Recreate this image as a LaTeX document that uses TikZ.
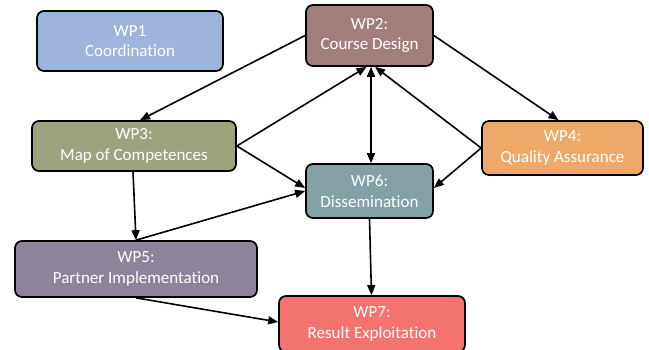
\documentclass[tikz,border=0pt]{standalone}
\usepackage{fontspec}
\setmainfont[Ligatures=NoCommon]{Carlito}
\usetikzlibrary{arrows.meta}
\definecolor{cwpA}{HTML}{9DB4DC}
\definecolor{cwpB}{HTML}{A27D7C}
\definecolor{cwpC}{HTML}{9CA47E}
\definecolor{cwpD}{HTML}{EEA96A}
\definecolor{cwpE}{HTML}{8E8499}
\definecolor{cwpF}{HTML}{84A1A8}
\definecolor{cwpG}{HTML}{F4736F}
\begin{document}
\begin{tikzpicture}[x=1pt,y=-1pt,
  wpbox/.style={draw=black, line width=1.7pt, rounded corners=7pt, inner sep=0pt,
    text=white, align=center, font=\fontsize{17}{20.8}\selectfont},
  conn/.style={line width=1.6pt, -{Triangle[length=10pt,width=8pt]}},
  conn2/.style={line width=1.6pt, {Triangle[length=10pt,width=8pt]}-{Triangle[length=10pt,width=8pt]}}]
\useasboundingbox (0,0) rectangle (649,349);
\node[wpbox, fill=cwpA, minimum width=186pt, minimum height=60pt] (wp1) at (130,41) {WP1\\Coordination};
\node[wpbox, fill=cwpB, minimum width=127pt, minimum height=61pt] (wp2) at (369.5,35.5) {WP2:\\Course Design};
\node[wpbox, fill=cwpC, minimum width=204pt, minimum height=50pt] (wp3) at (134,146) {WP3:\\Map of Competences};
\node[wpbox, fill=cwpD, minimum width=161pt, minimum height=54pt] (wp4) at (562.5,148) {WP4:\\Quality Assurance};
\node[wpbox, fill=cwpF, minimum width=127pt, minimum height=54pt] (wp6) at (369.5,191) {WP6:\\Dissemination};
\node[wpbox, fill=cwpE, minimum width=242pt, minimum height=56pt] (wp5) at (136,269) {WP5:\\Partner Implementation};
\node[wpbox, fill=cwpG, minimum width=186pt, minimum height=56pt] (wp7) at (372,324) {WP7:\\Result Exploitation};
\draw[conn] (wp2.west) -- ([xshift=6pt]wp3.north);
\draw[conn] (wp3.east) -- ([xshift=-3pt]wp2.south);
\draw[conn] (wp3.east) -- ([yshift=3pt]wp6.west);
\draw[conn2] ([xshift=1.5pt]wp2.south) -- ([xshift=1.5pt]wp6.north);
\draw[conn] (wp2.east) -- ([xshift=-4pt]wp4.north);
\draw[conn] (wp4.west) -- ([xshift=5.5pt]wp2.south);
\draw[conn] (wp4.west) -- ([yshift=3pt]wp6.east);
\draw[conn] ([xshift=-1pt]wp3.south) -- (wp5.north);
\draw[conn] (wp5.north) -- (wp6.west);
\draw[conn] (wp5.south) -- ([yshift=2pt]wp7.west);
\draw[conn] (wp6.south) -- ([xshift=-0.5pt]wp7.north);
\end{tikzpicture}
\end{document}
